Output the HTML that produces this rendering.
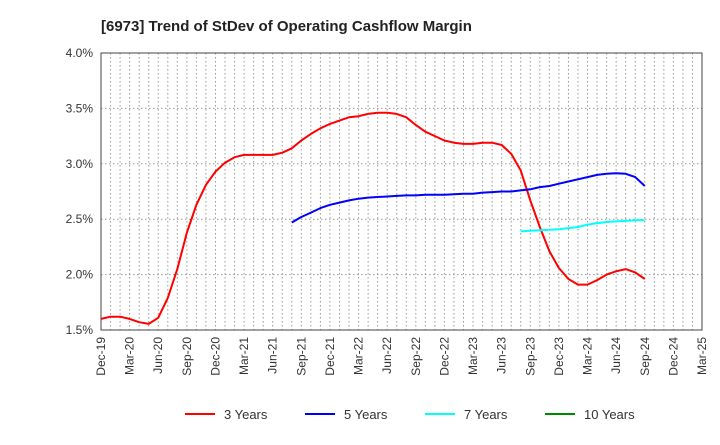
<!DOCTYPE html>
<html><head><meta charset="utf-8"><style>
body{margin:0;background:#fff;font-family:"Liberation Sans",sans-serif}
svg text{font-family:"Liberation Sans",sans-serif}
</style></head><body>
<svg id="c" width="720" height="440" xmlns="http://www.w3.org/2000/svg">
<text x="101" y="31" font-size="15" font-weight="bold" fill="#222">[6973]  Trend of StDev of Operating Cashflow Margin</text>
<g id="grid"></g><g id="axes"></g><g id="series"></g><g id="legend"></g>
</svg>
<script>
const xLabels=["Dec-19","Mar-20","Jun-20","Sep-20","Dec-20","Mar-21","Jun-21","Sep-21","Dec-21","Mar-22","Jun-22","Sep-22","Dec-22","Mar-23","Jun-23","Sep-23","Dec-23","Mar-24","Jun-24","Sep-24","Dec-24","Mar-25"];
const yTicks=[1.5,2.0,2.5,3.0,3.5,4.0];
const s3Start=0;
const s3=[1.60,1.62,1.62,1.60,1.57,1.555,1.61,1.79,2.05,2.38,2.63,2.81,2.93,3.01,3.06,3.08,3.08,3.08,3.08,3.10,3.14,3.21,3.27,3.32,3.36,3.39,3.42,3.43,3.45,3.46,3.46,3.45,3.42,3.35,3.29,3.25,3.21,3.19,3.18,3.18,3.19,3.19,3.17,3.09,2.94,2.67,2.43,2.21,2.06,1.96,1.91,1.91,1.95,2.00,2.03,2.05,2.02,1.96];
const s5Start=20;
const s5=[2.47,2.52,2.56,2.60,2.63,2.65,2.67,2.685,2.695,2.70,2.705,2.71,2.715,2.715,2.72,2.72,2.72,2.725,2.73,2.73,2.74,2.745,2.75,2.75,2.76,2.77,2.79,2.80,2.82,2.84,2.86,2.88,2.90,2.91,2.915,2.91,2.88,2.80];
const s7Start=44;
const s7=[2.39,2.395,2.40,2.405,2.41,2.42,2.43,2.45,2.465,2.475,2.48,2.485,2.49,2.49];
const s10=[];
const L=101,R=702,T=53,B=330,months=63;
const xs=i=>L+(R-L)*i/months;
const ys=v=>B-(v-1.5)/2.5*(B-T);
const NS="http://www.w3.org/2000/svg";
function mk(tag,attrs,parent){const e=document.createElementNS(NS,tag);for(const k in attrs)e.setAttribute(k,attrs[k]);parent.appendChild(e);return e;}
const grid=document.getElementById('grid'),axes=document.getElementById('axes'),ser=document.getElementById('series'),leg=document.getElementById('legend');
for(let i=1;i<months;i++){const l=mk('line',{x1:xs(i),x2:xs(i),y1:T,y2:B,stroke:'#999','stroke-dasharray':'1.5,2.5','stroke-width':1},grid);

}
yTicks.forEach(v=>{if(v>1.5&&v<4){const l=mk('line',{x1:L,x2:R,y1:ys(v),y2:ys(v),stroke:'#999','stroke-dasharray':'1.5,2.5'},grid);

}
const t=mk('text',{x:93,y:ys(v)+4,'text-anchor':'end','font-size':12,fill:'#333'},axes);t.textContent=v.toFixed(1)+'%';

});
const fr=mk('rect',{x:L,y:T,width:R-L,height:B-T,fill:'none',stroke:'#444','stroke-width':1},axes);


xLabels.forEach((s,k)=>{const x=xs(k*3);const t=mk('text',{transform:`translate(${x+4},337) rotate(-90)`,'text-anchor':'end','font-size':12,fill:'#333'},axes);t.textContent=s;

});
function line(arr,start,color,name){if(!arr.length)return;const d=arr.map((v,i)=>(i?'L':'M')+xs(start+i).toFixed(1)+','+ys(v).toFixed(1)).join('');
const p=mk('path',{d:d,fill:'none',stroke:color,'stroke-width':2,'stroke-linejoin':'round'},ser);

}
line(s3,s3Start,'#f00','series-3-years');
line(s5,s5Start,'#00f','series-5-years');
line(s7,s7Start,'#0ff','series-7-years');
line(s10,0,'#080','series-10-years');
[['3 Years','#f00',185],['5 Years','#00f',305],['7 Years','#0ff',425],['10 Years','#080',545]].forEach(([n,c,x])=>{
const g=mk('g',{},leg);


mk('line',{x1:x,x2:x+30,y1:414,y2:414,stroke:c,'stroke-width':2},g);
const t=mk('text',{x:x+39,y:419,'font-size':13,fill:'#333'},g);t.textContent=n;});
</script>
</body></html>
